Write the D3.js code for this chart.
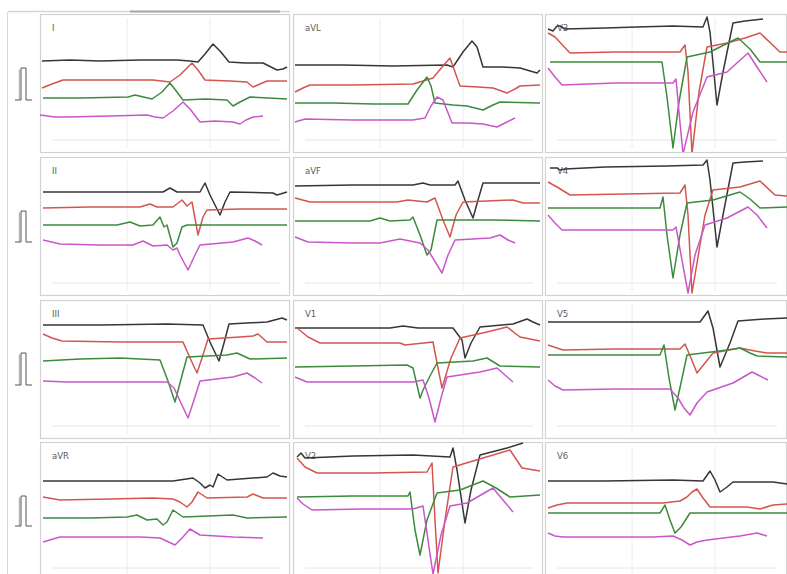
<!DOCTYPE html>
<html><head><meta charset="utf-8">
<script src="https://cdn.jsdelivr.net/npm/d3@7"></script>
<style>html,body{margin:0;padding:0;background:#fff;overflow:hidden}</style>
</head><body>
<svg id="c" width="787" height="574"></svg>
<script>
// Lead names in display order (row-major, 3 columns x 4 rows)
const leads = ["I","aVL","V3","II","aVF","V4","III","V1","V5","aVR","V2","V6"];
// Trace order within each lead: beat 1..4
const traceNames = ["beat1","beat2","beat3","beat4"];
const traceColors = ["#363636","#d4554f","#3c8a3c","#c957c9"];
// Calibration pulse (time units, mV)
const calPulse = [[0,0],[6,0],[6,1],[11,1],[11,0],[17,0]];

// Each lead: four traces of [time, amplitude] samples
const leadI = [
 [[2,91],[30,92],[60,91],[100,92],[137,92],[150,91],[158,90],[165,98],[173,108],[180,101],[189,90],[205,89],[223,89],[237,82],[243,83],[247,85]],
 [[2,64],[12,68],[23,72],[60,72],[113,72],[130,70],[140,77],[152,89],[158,82],[165,72],[190,71],[207,70],[213,65],[220,68],[227,71],[247,71]],
 [[3,54],[40,54],[88,55],[95,57],[112,53],[122,60],[130,69],[137,60],[143,52],[165,53],[187,52],[193,46],[200,50],[210,55],[247,53]],
 [[0,37],[15,35],[27,35],[70,36],[107,37],[115,35],[123,34],[133,41],[143,50],[150,43],[160,30],[175,31],[193,30],[200,28],[206,32],[213,35],[223,36]]
];
const leadaVL = [
 [[2,87],[50,87],[100,86],[154,87],[160,85],[170,100],[179,111],[184,105],[190,85],[210,85],[227,84],[244,79],[247,82]],
 [[2,60],[10,64],[17,67],[60,67],[120,68],[140,74],[150,86],[157,94],[162,80],[167,66],[185,65],[200,64],[214,59],[222,63],[227,66],[247,67]],
 [[2,49],[40,49],[80,48],[115,48],[124,62],[134,75],[138,66],[142,49],[160,47],[174,46],[190,42],[200,47],[207,50],[247,49]],
 [[2,30],[12,33],[60,32],[120,32],[132,34],[138,46],[144,55],[150,52],[159,29],[175,29],[190,28],[204,25],[214,30],[222,34]]
];
const leadV3 = [
 [[3,123],[8,121],[12,126],[15,126],[20,123],[60,124],[92,125],[128,126],[158,125],[162,135],[165,120],[172,47],[178,80],[188,129],[200,131],[218,133]],
 [[3,119],[10,115],[25,99],[70,100],[135,100],[140,107],[143,80],[147,-2],[154,60],[162,105],[182,109],[200,114],[215,119],[235,100],[242,100]],
 [[5,90],[60,90],[117,90],[122,55],[128,4],[134,50],[142,95],[165,100],[193,114],[205,103],[215,90],[242,90]],
 [[3,84],[10,75],[17,67],[70,69],[128,69],[131,73],[134,40],[138,-2],[148,40],[162,75],[182,80],[203,99],[212,85],[222,70]]
];
const leadII = [
 [[3,103],[60,103],[123,103],[130,107],[137,103],[160,103],[165,112],[170,100],[180,80],[185,93],[190,103],[233,102],[237,100],[247,103]],
 [[3,87],[50,88],[100,88],[110,91],[117,88],[133,88],[142,95],[147,89],[152,93],[158,60],[163,78],[167,85],[200,86],[247,86]],
 [[3,70],[77,70],[90,73],[100,69],[113,70],[120,78],[124,68],[127,70],[133,48],[137,52],[142,68],[147,70],[200,70],[247,70]],
 [[3,55],[20,51],[60,50],[93,50],[103,54],[113,49],[127,50],[133,45],[137,47],[140,40],[148,25],[155,40],[160,50],[193,53],[208,57],[215,54],[222,50]]
];
const leadaVF = [
 [[2,109],[60,110],[120,110],[130,112],[137,110],[162,110],[165,114],[172,95],[180,77],[185,95],[190,112],[230,112],[247,112]],
 [[2,97],[17,93],[60,93],[104,93],[115,95],[134,93],[142,97],[150,75],[157,58],[163,80],[170,93],[220,95],[230,92],[247,92]],
 [[2,74],[77,74],[87,77],[97,74],[117,75],[120,78],[127,60],[134,40],[138,45],[144,75],[200,75],[247,74]],
 [[2,58],[15,53],[60,52],[87,52],[107,56],[127,52],[135,45],[149,22],[155,40],[162,55],[197,57],[207,60],[215,55],[222,52]]
];
const leadV4 = [
 [[5,127],[12,127],[15,125],[20,126],[60,128],[122,129],[158,130],[162,135],[165,115],[172,48],[178,80],[188,132],[200,133],[218,134]],
 [[3,113],[12,108],[25,100],[80,101],[135,102],[140,110],[143,80],[147,2],[155,50],[160,80],[168,105],[195,108],[215,114],[230,100],[242,99]],
 [[3,87],[60,87],[115,87],[118,98],[122,60],[128,17],[135,60],[142,92],[168,95],[195,103],[205,96],[215,87],[242,88]],
 [[3,80],[10,72],[17,65],[80,65],[128,65],[131,68],[137,35],[143,2],[150,40],[160,70],[182,77],[203,88],[212,80],[222,67]]
];
const leadIII = [
 [[3,113],[60,113],[127,114],[163,113],[170,96],[179,77],[184,95],[189,114],[227,116],[242,120],[247,118]],
 [[3,104],[12,100],[22,97],[80,96],[143,96],[150,80],[157,65],[162,80],[168,99],[200,101],[213,102],[218,104],[227,96],[247,96]],
 [[3,77],[40,79],[80,80],[120,78],[128,57],[135,36],[140,55],[147,81],[187,83],[197,85],[210,79],[247,80]],
 [[3,57],[27,56],[80,56],[127,56],[134,50],[141,35],[148,20],[154,38],[160,57],[193,61],[207,65],[215,60],[222,55]]
];
const leadV1 = [
 [[2,110],[50,110],[97,110],[110,112],[125,110],[160,110],[169,98],[172,80],[178,95],[187,111],[220,114],[234,119],[240,116],[247,113]],
 [[4,110],[15,101],[27,95],[70,95],[107,95],[112,93],[140,96],[144,75],[149,50],[158,80],[167,100],[194,106],[214,111],[227,101],[247,97]],
 [[2,71],[60,72],[114,73],[120,70],[127,40],[130,48],[137,62],[144,75],[180,77],[194,80],[207,72],[247,71]],
 [[2,61],[14,56],[60,56],[120,56],[130,58],[136,40],[142,16],[148,40],[154,61],[187,66],[204,70],[212,63],[220,56]]
];
const leadV5 = [
 [[3,116],[60,116],[122,116],[155,116],[163,127],[168,110],[175,71],[185,95],[193,117],[220,119],[242,120]],
 [[3,93],[18,88],[70,89],[135,89],[140,94],[146,80],[152,65],[160,75],[168,85],[195,90],[210,87],[222,85],[242,85]],
 [[3,83],[60,83],[115,83],[119,93],[124,60],[130,28],[136,55],[142,83],[182,88],[195,90],[205,85],[212,82],[242,81]],
 [[3,58],[10,52],[18,48],[70,49],[125,49],[133,40],[139,30],[145,23],[152,35],[162,46],[188,55],[207,66],[215,62],[223,58]]
];
const leadaVR = [
 [[3,99],[60,99],[133,99],[153,102],[160,97],[165,92],[170,95],[173,93],[178,106],[187,100],[227,103],[233,107],[240,104],[247,103]],
 [[3,83],[20,80],[70,81],[113,82],[133,81],[140,78],[147,73],[152,78],[158,88],[167,82],[207,83],[213,86],[223,82],[247,82]],
 [[3,62],[50,62],[87,63],[97,65],[107,60],[117,61],[123,55],[127,58],[133,70],[143,63],[193,65],[207,62],[247,63]],
 [[3,38],[20,43],[60,43],[100,43],[120,42],[135,35],[142,42],[150,51],[160,45],[193,43],[223,42]]
];
const leadV2 = [
 [[4,123],[8,127],[12,122],[60,124],[120,125],[157,123],[160,132],[164,110],[172,57],[178,90],[187,125],[214,132],[230,137]],
 [[4,122],[12,113],[24,107],[80,107],[134,108],[139,117],[142,60],[145,7],[152,60],[160,113],[190,122],[217,130],[229,112],[247,109]],
 [[4,83],[60,84],[115,84],[117,88],[122,50],[127,25],[134,60],[144,87],[167,90],[190,99],[203,92],[217,83],[247,85]],
 [[4,82],[10,76],[19,70],[70,71],[120,71],[130,74],[135,40],[140,6],[148,45],[157,74],[174,77],[200,92],[210,80],[220,68]]
];
const leadV6 = [
 [[3,99],[60,99],[128,100],[158,99],[165,109],[170,100],[175,88],[182,93],[188,98],[228,98],[242,96]],
 [[3,72],[12,75],[22,77],[70,77],[118,77],[135,79],[142,83],[147,88],[152,91],[158,82],[165,73],[202,73],[215,71],[228,75],[242,76]],
 [[3,67],[60,67],[115,67],[120,75],[125,60],[130,47],[136,53],[145,67],[200,67],[242,67]],
 [[3,47],[10,44],[18,43],[70,43],[108,43],[128,44],[137,40],[145,35],[152,38],[162,40],[195,44],[212,47],[222,44]]
];
const leadData = [leadI,leadaVL,leadV3,leadII,leadaVF,leadV4,leadIII,leadV1,leadV5,leadaVR,leadV2,leadV6];

// ---- layout ----
const colLeft = [40, 293, 545], colWidth = [250, 250, 242];
const rowTop = [14, 157, 300, 442], rowH = 138;
const ampMax = 138;
const calBase = [100, 242, 385, 526]; // baseline of calibration pulse per row (px)
const calHeight = [32, 31, 32, 30];

const svg = d3.select("#c");
svg.append("rect").attr("width",787).attr("height",574).attr("fill","#fff");

// top strip and left frame
svg.append("line").attr("x1",8).attr("x2",290).attr("y1",11.5).attr("y2",11.5).attr("stroke","#d6d6d6").attr("stroke-width",1.5);
svg.append("line").attr("x1",130).attr("x2",280).attr("y1",11.5).attr("y2",11.5).attr("stroke","#a8a8a8").attr("stroke-width",2);
svg.append("line").attr("x1",7.5).attr("x2",7.5).attr("y1",12).attr("y2",574).attr("stroke","#d8d8d8");

const line = d3.line();

leads.forEach((name, i) => {
  const r = Math.floor(i/3), c = i%3;
  const x0 = colLeft[c], w = colWidth[c], y0 = rowTop[r];
  const x = d3.scaleLinear().domain([0, w]).range([x0, x0 + w]);
  const y = d3.scaleLinear().domain([0, ampMax]).range([y0 + rowH, y0]);
  const g = svg.append("g");
  const clipId = "clip" + i;
  g.append("clipPath").attr("id", clipId).append("rect").attr("x", x0).attr("y", y0).attr("width", w).attr("height", rowH);
  g.append("rect").attr("x", x0+0.5).attr("y", y0+0.5).attr("width", w-1).attr("height", rowH)
    .attr("fill","#fff").attr("stroke","#d2d2d2").attr("stroke-width",1.2);
  // faint grid
  [87, 170].forEach(t => g.append("line").attr("x1", x(t)).attr("x2", x(t)).attr("y1", y0+4).attr("y2", y0+rowH-4)
      .attr("stroke","#ececec").attr("stroke-width",1));
  g.append("line").attr("x1", x(12)).attr("x2", x(w-10)).attr("y1", y(12)).attr("y2", y(12)).attr("stroke","#e6e6e6");
  g.append("text").attr("x", x0+12).attr("y", y0+17).text(name)
    .attr("font-family","DejaVu Sans, sans-serif").attr("font-size", 8.5).attr("fill","#5a5a5a");
  const tg = g.append("g").attr("clip-path", `url(#${clipId})`);
  leadData[i].forEach((pts, k) => {
    tg.append("path").datum(pts).attr("d", line.x(d => x(d[0])).y(d => y(d[1])))
      .attr("fill","none").attr("stroke", traceColors[k]).attr("stroke-width",1.5)
      .attr("stroke-linejoin","round").attr("class", traceNames[k]);
  });
});

// calibration pulses
rowTop.forEach((t, r) => {
  const cx = d3.scaleLinear().domain([0, 17]).range([15, 32]);
  const cy = d3.scaleLinear().domain([0, 1]).range([calBase[r], calBase[r] - calHeight[r]]);
  svg.append("path").datum(calPulse).attr("d", d3.line().x(d => cx(d[0])).y(d => cy(d[1])))
    .attr("fill","none").attr("stroke","#555").attr("stroke-width",1);
  svg.append("line").attr("x1", cx(4.3)).attr("x2", cx(4.3)).attr("y1", cy(0)).attr("y2", cy(0.95))
    .attr("stroke","#888").attr("stroke-width",0.8);
});
</script>
</body></html>
